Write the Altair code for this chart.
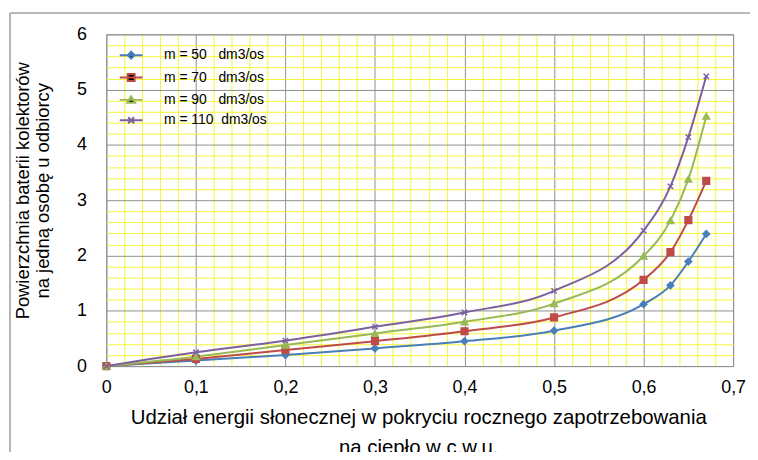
import altair as alt
import pandas as pd

x_vals = [0, 0.1, 0.2, 0.3, 0.4, 0.5, 0.6, 0.63, 0.65, 0.67]
m50 = [0, 0.10, 0.20, 0.32, 0.45, 0.64, 1.12, 1.46, 1.89, 2.39]
m70 = [0, 0.13, 0.29, 0.45, 0.63, 0.88, 1.56, 2.06, 2.64, 3.35]
m90 = [0, 0.17, 0.38, 0.59, 0.80, 1.13, 1.99, 2.63, 3.38, 4.52]
m110 = [0, 0.25, 0.46, 0.71, 0.97, 1.36, 2.45, 3.25, 4.14, 5.24]

series = ["m = 50\u00a0\u00a0\u00a0dm3/os", "m = 70\u00a0\u00a0\u00a0dm3/os",
          "m = 90\u00a0\u00a0\u00a0dm3/os", "m = 110\u00a0\u00a0dm3/os"]
colors = ["#4A7EBB", "#BE4B48", "#98B954", "#7D60A0"]
marker_shapes = ["diamond", "square", "triangle-up", "M-0.8,-0.8L0.8,0.8M-0.8,0.8L0.8,-0.8"]
legend_shapes = [
    "M-2.3,0H2.3M0,-0.7L0.7,0L0,0.7L-0.7,0Z",
    "M-2.3,0H2.3M-0.7,-0.7H0.7V0.7H-0.7Z",
    "M-2.3,0H2.3M0,-0.7L0.8,0.6H-0.8Z",
    "M-2.3,0H2.3M-0.6,-0.6L0.6,0.6M-0.6,0.6L0.6,-0.6",
]

x_grid = [round(i * 0.02, 2) for i in range(36)]
y_grid = [round(i * 0.2, 1) for i in range(31)]

rows = []
for name, vals in zip(series, [m50, m70, m90, m110]):
    for xv, yv in zip(x_vals, vals):
        rows.append({"x": xv, "y": yv, "series": name})
df = pd.DataFrame(rows)

FONT = "Liberation Sans"
major_x = "abs(datum.value*10 - round(datum.value*10)) < 0.001"
major_y = "abs(datum.value - round(datum.value)) < 0.001"

W, H = 631, 334

x_enc = alt.X("x:Q", scale=alt.Scale(domain=[0, 0.7], nice=False),
              axis=alt.Axis(values=x_grid, tickCount=200, grid=True,
                            gridColor={"condition": {"test": major_x, "value": "#8f8f8f"}, "value": "#f5f53a"},
                            labelExpr=f"{major_x} ? (datum.value == 0 ? '0' : replace(format(datum.value, '.1f'), '.', ',')) : ''",
                            labelOverlap=False, labelFlush=False, ticks=False, domain=False,
                            labelFontSize=18, labelFont=FONT, labelColor="#000", labelPadding=13,
                            title=["Udział energii słonecznej w pokryciu rocznego zapotrzebowania", "na ciepło w c.w.u."],
                            titleFont=FONT, titleFontSize=20.5, titleFontWeight="normal", titleColor="#000",
                            titleBaseline="top", titleY=42, titleX=314, titleLineHeight=30))
y_enc = alt.Y("y:Q", scale=alt.Scale(domain=[0, 6], nice=False),
              axis=alt.Axis(values=y_grid, tickCount=200, grid=True,
                            gridColor={"condition": {"test": major_y, "value": "#8f8f8f"}, "value": "#f5f53a"},
                            labelExpr=f"{major_y} ? format(datum.value, 'd') : ''",
                            labelOverlap=False, labelFlush=False, ticks=False, domain=False,
                            labelFontSize=18, labelFont=FONT, labelColor="#000", labelPadding=20,
                            title=["Powierzchnia baterii kolektorów", "na jedną osobę u odbiorcy"],
                            titleFont=FONT, titleFontSize=18.5, titleFontWeight="normal", titleColor="#000",
                            titleAngle=270, titleBaseline="top", titleAlign="center",
                            titleX=-93, titleY=157, titleLineHeight=20))

color_scale = alt.Scale(domain=series, range=colors)

lines = alt.Chart(df).mark_line(interpolate="monotone", strokeWidth=2).encode(
    x=x_enc, y=y_enc,
    color=alt.Color("series:N", scale=color_scale, legend=None),
    detail="series:N",
)

markers = alt.Chart(df).mark_point(filled=True, size=45, strokeWidth=1.5, opacity=1).encode(
    x="x:Q", y="y:Q",
    color=alt.Color("series:N", scale=color_scale, legend=None),
    stroke=alt.Stroke("series:N", scale=alt.Scale(domain=series, range=colors), legend=None),
    shape=alt.Shape("series:N", scale=alt.Scale(domain=series, range=marker_shapes), legend=None),
)

leg = alt.Legend(title=None, orient="none", legendX=12, legendY=14)
legend_layer = alt.Chart(df).transform_filter("datum.x < -1").mark_point(
    filled=True, size=100, strokeWidth=2, opacity=1).encode(
    x="x:Q", y="y:Q",
    color=alt.Color("series:N", scale=color_scale, legend=leg),
    stroke=alt.Stroke("series:N", scale=alt.Scale(domain=series, range=colors), legend=leg),
    shape=alt.Shape("series:N", scale=alt.Scale(domain=series, range=legend_shapes), legend=leg),
)

# outer chart-area frame (left and top edges, as in the reference)
frame_left = alt.Chart(df).mark_rule(color="#b4b4b4", strokeWidth=1).encode(
    x=alt.value(-97), y=alt.value(-21), y2=alt.value(440))
frame_top = alt.Chart(df).mark_rule(color="#b4b4b4", strokeWidth=1).encode(
    x=alt.value(-97), x2=alt.value(660), y=alt.value(-21))

chart = alt.layer(lines, markers, legend_layer, frame_left, frame_top).resolve_scale(
    shape="independent", stroke="independent"
).properties(
    width=W, height=H,
    autosize=alt.AutoSizeParams(type="none"),
    padding={"left": 99, "top": 25, "right": 17, "bottom": 85},
    background="white",
).configure_view(stroke="#8f8f8f", strokeWidth=1).configure_legend(
    labelFont=FONT, labelFontSize=14, labelColor="#000", labelOffset=26,
    rowPadding=6.5, symbolSize=100, symbolStrokeWidth=2, symbolOffset=6,
)

chart.save("out.html", embed_options={"renderer": "svg", "actions": False})
